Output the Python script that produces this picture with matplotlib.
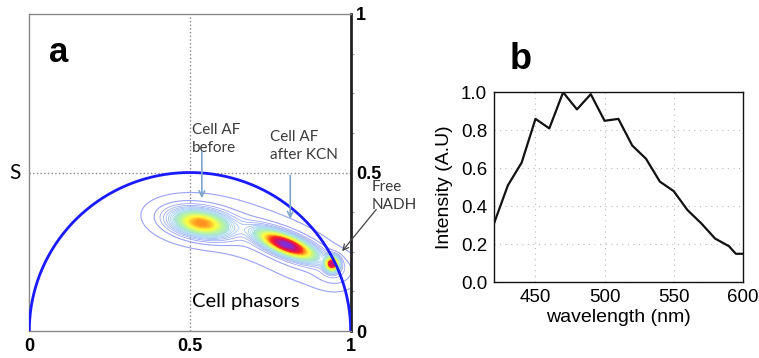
import numpy as np
import matplotlib
matplotlib.use("Agg")
import matplotlib.pyplot as plt
from matplotlib.colors import LinearSegmentedColormap

# spectrum (panel b)
wavelength = [420, 430, 440, 450, 460, 470, 480, 490, 500, 510,
              520, 530, 540, 550, 560, 570, 580, 590, 595, 600]
intensity = [0.31, 0.51, 0.63, 0.86, 0.81, 1.00, 0.91, 0.99, 0.85, 0.86,
             0.72, 0.65, 0.53, 0.48, 0.38, 0.31, 0.23, 0.19, 0.15, 0.15]

# phasor clusters (panel a): centre g, centre s, sigma major/minor, tilt, weight
blob_g = [0.535, 0.800, 0.942]
blob_s = [0.340, 0.272, 0.212]
blob_sa = [0.055, 0.058, 0.013]
blob_sb = [0.024, 0.018, 0.014]
blob_ang = [-10, -22, 0]
blob_amp = [0.60, 1.00, 0.85]

# faint halo around the clusters
halo_g = [0.52, 0.68, 0.84, 0.955]
halo_s = [0.350, 0.310, 0.245, 0.190]
halo_sa = [0.100, 0.090, 0.100, 0.040]
halo_sb = [0.050, 0.050, 0.050, 0.032]
halo_ang = [-6, -15, -25, 0]
halo_amp = [0.05, 0.03, 0.05, 0.05]


def gauss2d(G, S, g0, s0, sa, sb, ang, amp):
    t = np.deg2rad(ang)
    u = (G - g0) * np.cos(t) + (S - s0) * np.sin(t)
    v = -(G - g0) * np.sin(t) + (S - s0) * np.cos(t)
    return amp * np.exp(-0.5 * ((u / sa) ** 2 + (v / sb) ** 2))


gg, ss = np.meshgrid(np.linspace(0.25, 1.1, 450), np.linspace(0.05, 0.55, 300))
dens = np.zeros_like(gg)
for p in zip(blob_g, blob_s, blob_sa, blob_sb, blob_ang, blob_amp):
    dens += gauss2d(gg, ss, *p)
for p in zip(halo_g, halo_s, halo_sa, halo_sb, halo_ang, halo_amp):
    dens += gauss2d(gg, ss, *p)
dens /= dens.max()

phasor_cmap = LinearSegmentedColormap.from_list(
    "phasor", ['#9aa2f5', '#a8dcf2', '#b8f5a0', '#ffff40', '#ffa020',
               '#ff2020', '#d0106a', '#7a30e0'])

fig = plt.figure(figsize=(7.59, 3.58), dpi=100)

# ---- panel a ----
ax = fig.add_axes([0.0386, 0.0754, 0.4234, 0.8855])
ax.set_xlim(0, 1)
ax.set_ylim(0, 1)

theta = np.linspace(0, np.pi, 300)
ax.plot(0.5 + 0.5 * np.cos(theta), 0.5 * np.sin(theta), color='#1a1aff', lw=2, zorder=3)
ax.axvline(0.5, color='#888888', ls=':', lw=1)
ax.axhline(0.5, color='#888888', ls=':', lw=1)

ax.contour(gg, ss, dens, levels=[0.012, 0.035], colors='#9aa2f5', linewidths=0.8, zorder=2)
ax.contourf(gg, ss, dens, levels=np.linspace(0.22, 1.0, 30), cmap=phasor_cmap,
            vmin=0.05, vmax=1.0, zorder=2)
ax.contour(gg, ss, dens, levels=np.linspace(0.06, 0.5, 20), cmap=phasor_cmap,
           vmin=0.05, vmax=1.0, linewidths=0.6, zorder=2)

for side in ['left', 'top', 'bottom']:
    ax.spines[side].set_color('#888888')
    ax.spines[side].set_linewidth(1)
ax.spines['right'].set_color('#222222')
ax.spines['right'].set_linewidth(2)

ax.set_xticks([0, 0.5, 1])
ax.set_xticklabels(['0', '0.5', '1'], fontweight='bold', fontsize=13,
                   family='Liberation Sans')
ax.tick_params(axis='x', length=0, pad=5)
ax.yaxis.tick_right()
ax.set_yticks([0, 0.5, 1])
ax.set_yticklabels(['0', '0.5', '1'], fontweight='bold', fontsize=13,
                   family='Liberation Sans')
ax.set_yticks(np.arange(0.125, 1, 0.125), minor=True)
ax.tick_params(axis='y', which='major', length=0, pad=4)
ax.tick_params(axis='y', which='minor', length=2, color='#999999', width=0.8)

ax.text(-0.045, 0.5, 'S', fontsize=15, family='Lato', ha='center', va='center')
ax.text(0.06, 0.88, 'a', fontsize=25, fontweight='bold', family='Liberation Sans',
        ha='left', va='center')

txt = dict(fontsize=11, family='Lato', color='#3a3a3a', linespacing=1.35)
ax.text(0.505, 0.655, 'Cell AF\nbefore', ha='left', va='top', **txt)
ax.annotate('', xy=(0.537, 0.41), xytext=(0.537, 0.575),
            arrowprops=dict(arrowstyle='->', color='#7fa6cc', lw=1.2))
ax.text(0.748, 0.635, 'Cell AF\nafter KCN', ha='left', va='top', **txt)
ax.annotate('', xy=(0.812, 0.345), xytext=(0.812, 0.50),
            arrowprops=dict(arrowstyle='->', color='#7fa6cc', lw=1.2))
ax.text(1.066, 0.475, 'Free\nNADH', ha='left', va='top', clip_on=False, **txt)
ax.annotate('', xy=(0.968, 0.245), xytext=(1.085, 0.39),
            arrowprops=dict(arrowstyle='->', color='#444444', lw=0.9),
            annotation_clip=False)
ax.text(0.506, 0.093, 'Cell phasors', fontsize=14.5, family='Lato', ha='left', va='center')

# ---- panel b ----
bx = fig.add_axes([0.6509, 0.2115, 0.3277, 0.5307])
bx.plot(wavelength, intensity, color='#111111', lw=1.6)
bx.set_xlim(420, 600)
bx.set_ylim(0, 1)
bx.set_xticks([450, 500, 550, 600])
bx.set_yticks([0.0, 0.2, 0.4, 0.6, 0.8, 1.0])
bx.set_yticklabels(['0.0', '0.2', '0.4', '0.6', '0.8', '1.0'])
bx.grid(True, color='#bbbbbb', ls=(0, (1, 4)), lw=0.8)
bx.tick_params(length=0, labelsize=13.5, pad=5)
for lab in bx.get_xticklabels() + bx.get_yticklabels():
    lab.set_family('Liberation Sans')
for side in bx.spines.values():
    side.set_color('#111111')
    side.set_linewidth(1)
bx.set_xlabel('wavelength (nm)', fontsize=14, family='Liberation Sans', labelpad=2)
bx.set_ylabel('Intensity (A.U)', fontsize=14, family='Liberation Sans', labelpad=6)
fig.text(0.672, 0.835, 'b', fontsize=26, fontweight='bold', family='Liberation Sans',
         ha='left', va='center')

fig.savefig('out.png', dpi=100)
